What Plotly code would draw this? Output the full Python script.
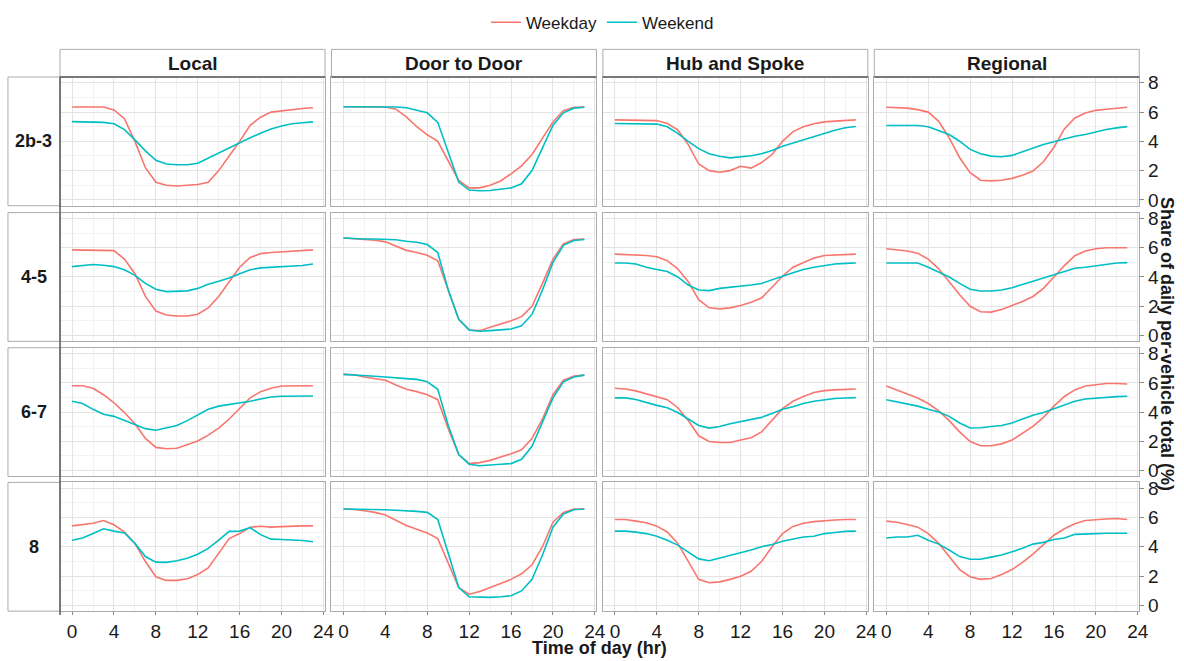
import plotly.graph_objects as go

# ---------------- data ----------------
hours = list(range(24))
columns = ["Local", "Door to Door", "Hub and Spoke", "Regional"]
rows = ["2b-3", "4-5", "6-7", "8"]
x_ticks = [0, 4, 8, 12, 16, 20, 24]
y_ticks = [0, 2, 4, 6, 8]

local_2b3_weekday = [6.35, 6.35, 6.35, 6.35, 6.15, 5.55, 4.0, 2.2, 1.2, 1.0, 0.95, 1.0, 1.05, 1.2, 2.0, 3.0, 4.0, 5.1, 5.65, 6.0, 6.1, 6.2, 6.25, 6.3]
local_2b3_weekend = [5.35, 5.35, 5.35, 5.3, 5.2, 4.8, 4.1, 3.35, 2.7, 2.45, 2.4, 2.4, 2.5, 2.85, 3.2, 3.6, 3.9, 4.25, 4.55, 4.85, 5.05, 5.2, 5.27, 5.33]
d2d_2b3_weekday = [6.37, 6.37, 6.37, 6.37, 6.35, 6.2, 5.67, 5.0, 4.45, 4.0, 2.67, 1.33, 0.82, 0.82, 1.0, 1.29, 1.78, 2.33, 3.1, 4.2, 5.33, 6.1, 6.33, 6.35]
d2d_2b3_weekend = [6.37, 6.37, 6.37, 6.37, 6.37, 6.35, 6.3, 6.15, 5.95, 5.3, 3.33, 1.22, 0.67, 0.62, 0.64, 0.71, 0.82, 1.1, 2.0, 3.55, 5.1, 5.95, 6.27, 6.33]
hub_2b3_weekday = [5.47, 5.47, 5.47, 5.47, 5.42, 5.22, 4.78, 3.78, 2.45, 2.0, 1.89, 2.0, 2.3, 2.17, 2.55, 3.1, 4.0, 4.67, 5.0, 5.2, 5.33, 5.38, 5.45, 5.47]
hub_2b3_weekend = [5.22, 5.22, 5.22, 5.22, 5.18, 5.0, 4.55, 4.0, 3.5, 3.15, 2.98, 2.87, 2.93, 3.02, 3.15, 3.38, 3.67, 3.89, 4.1, 4.33, 4.55, 4.76, 4.93, 5.02]
reg_2b3_weekday = [6.33, 6.3, 6.27, 6.17, 6.0, 5.37, 4.24, 2.88, 1.86, 1.34, 1.3, 1.34, 1.47, 1.68, 1.97, 2.6, 3.6, 4.85, 5.6, 5.94, 6.12, 6.2, 6.27, 6.33]
reg_2b3_weekend = [5.08, 5.08, 5.08, 5.08, 5.0, 4.74, 4.47, 4.01, 3.45, 3.15, 2.99, 2.95, 3.04, 3.29, 3.56, 3.79, 3.97, 4.17, 4.35, 4.47, 4.65, 4.81, 4.92, 5.01]

local_45_weekday = [5.85, 5.85, 5.85, 5.85, 5.8, 5.22, 4.22, 2.67, 1.67, 1.4, 1.33, 1.33, 1.45, 1.89, 2.67, 3.67, 4.67, 5.33, 5.6, 5.67, 5.71, 5.74, 5.78, 5.85]
local_45_weekend = [4.71, 4.78, 4.85, 4.8, 4.71, 4.49, 4.11, 3.56, 3.16, 3.0, 3.0, 3.05, 3.22, 3.51, 3.71, 3.93, 4.22, 4.49, 4.62, 4.67, 4.71, 4.74, 4.78, 4.89]
d2d_45_weekday = [6.67, 6.62, 6.58, 6.51, 6.4, 6.11, 5.82, 5.67, 5.49, 5.11, 3.11, 1.11, 0.38, 0.33, 0.56, 0.78, 1.0, 1.29, 2.0, 3.56, 5.22, 6.27, 6.56, 6.6]
d2d_45_weekend = [6.67, 6.62, 6.6, 6.6, 6.58, 6.55, 6.44, 6.38, 6.22, 5.67, 3.11, 1.11, 0.38, 0.29, 0.33, 0.38, 0.44, 0.67, 1.44, 3.11, 5.0, 6.16, 6.49, 6.56]
hub_45_weekday = [5.56, 5.53, 5.51, 5.47, 5.38, 5.11, 4.56, 3.67, 2.45, 1.89, 1.82, 1.89, 2.05, 2.27, 2.56, 3.33, 4.05, 4.67, 5.0, 5.29, 5.47, 5.51, 5.53, 5.56]
hub_45_weekend = [4.96, 4.96, 4.89, 4.67, 4.51, 4.38, 4.0, 3.45, 3.11, 3.07, 3.22, 3.29, 3.38, 3.45, 3.56, 3.78, 4.05, 4.29, 4.51, 4.67, 4.78, 4.89, 4.93, 4.96]
reg_45_weekday = [5.93, 5.87, 5.78, 5.62, 5.22, 4.56, 3.67, 2.78, 2.0, 1.62, 1.6, 1.78, 2.05, 2.33, 2.67, 3.22, 4.0, 4.78, 5.45, 5.78, 5.93, 6.0, 6.0, 6.0]
reg_45_weekend = [4.96, 4.96, 4.96, 4.96, 4.67, 4.33, 4.0, 3.56, 3.16, 3.04, 3.04, 3.11, 3.27, 3.49, 3.71, 3.89, 4.11, 4.33, 4.6, 4.67, 4.78, 4.89, 4.96, 4.98]

local_67_weekday = [5.8, 5.8, 5.63, 5.19, 4.64, 3.97, 3.2, 2.2, 1.59, 1.5, 1.53, 1.76, 2.03, 2.43, 2.91, 3.53, 4.24, 4.97, 5.4, 5.63, 5.78, 5.8, 5.8, 5.8]
local_67_weekend = [4.74, 4.59, 4.19, 3.86, 3.71, 3.42, 3.15, 2.87, 2.76, 2.91, 3.09, 3.42, 3.79, 4.19, 4.41, 4.52, 4.59, 4.74, 4.9, 5.03, 5.08, 5.1, 5.1, 5.1]
d2d_67_weekday = [6.58, 6.55, 6.4, 6.29, 6.18, 5.85, 5.56, 5.4, 5.19, 4.85, 2.87, 1.1, 0.48, 0.55, 0.7, 0.93, 1.15, 1.43, 2.2, 3.53, 5.19, 6.18, 6.46, 6.53]
d2d_67_weekend = [6.58, 6.55, 6.5, 6.45, 6.4, 6.37, 6.29, 6.24, 6.07, 5.56, 3.09, 1.1, 0.44, 0.33, 0.36, 0.44, 0.48, 0.77, 1.66, 3.31, 4.97, 6.07, 6.4, 6.53]
hub_67_weekday = [5.63, 5.58, 5.45, 5.25, 5.07, 4.85, 4.3, 3.42, 2.38, 1.99, 1.92, 1.92, 2.09, 2.25, 2.65, 3.42, 4.24, 4.74, 5.07, 5.34, 5.47, 5.52, 5.56, 5.58]
hub_67_weekend = [4.97, 4.97, 4.86, 4.64, 4.46, 4.3, 3.97, 3.53, 3.09, 2.91, 3.02, 3.2, 3.35, 3.5, 3.64, 3.9, 4.19, 4.37, 4.59, 4.74, 4.86, 4.93, 4.97, 4.99]
reg_67_weekday = [5.78, 5.52, 5.25, 4.97, 4.59, 4.08, 3.42, 2.65, 1.99, 1.7, 1.7, 1.83, 2.09, 2.54, 3.02, 3.64, 4.41, 5.07, 5.52, 5.78, 5.89, 5.96, 5.96, 5.92]
reg_67_weekend = [4.85, 4.7, 4.57, 4.41, 4.19, 4.01, 3.71, 3.26, 2.91, 2.93, 3.02, 3.09, 3.26, 3.53, 3.79, 3.97, 4.24, 4.52, 4.74, 4.9, 4.97, 5.03, 5.06, 5.08]

local_8_weekday = [5.43, 5.5, 5.61, 5.79, 5.5, 5.0, 4.23, 2.99, 1.95, 1.7, 1.7, 1.81, 2.1, 2.55, 3.56, 4.56, 4.9, 5.34, 5.4, 5.34, 5.38, 5.43, 5.43, 5.43]
local_8_weekend = [4.45, 4.6, 4.9, 5.23, 5.07, 4.94, 4.23, 3.33, 2.95, 2.93, 3.04, 3.22, 3.49, 3.89, 4.45, 5.05, 5.07, 5.3, 4.83, 4.52, 4.5, 4.47, 4.43, 4.34]
d2d_8_weekday = [6.58, 6.55, 6.46, 6.35, 6.17, 5.84, 5.46, 5.19, 4.94, 4.56, 2.89, 1.21, 0.76, 0.94, 1.21, 1.48, 1.77, 2.15, 2.77, 4.0, 5.68, 6.35, 6.58, 6.58]
d2d_8_weekend = [6.58, 6.58, 6.56, 6.55, 6.53, 6.5, 6.47, 6.42, 6.35, 5.86, 3.56, 1.21, 0.58, 0.54, 0.54, 0.58, 0.65, 0.98, 1.77, 3.44, 5.34, 6.24, 6.53, 6.58]
hub_8_weekday = [5.86, 5.86, 5.75, 5.64, 5.41, 5.01, 4.23, 2.99, 1.77, 1.54, 1.6, 1.77, 1.99, 2.32, 2.99, 4.0, 4.9, 5.39, 5.61, 5.72, 5.79, 5.83, 5.86, 5.86]
hub_8_weekend = [5.07, 5.07, 5.0, 4.9, 4.72, 4.45, 4.11, 3.62, 3.17, 3.04, 3.22, 3.4, 3.6, 3.78, 4.0, 4.16, 4.38, 4.52, 4.67, 4.72, 4.9, 4.97, 5.05, 5.07]
reg_8_weekday = [5.75, 5.68, 5.52, 5.34, 4.9, 4.23, 3.33, 2.44, 1.95, 1.77, 1.83, 2.1, 2.44, 2.93, 3.49, 4.16, 4.79, 5.23, 5.57, 5.79, 5.86, 5.9, 5.93, 5.86]
reg_8_weekend = [4.6, 4.67, 4.67, 4.79, 4.45, 4.18, 3.78, 3.33, 3.15, 3.15, 3.29, 3.44, 3.66, 3.89, 4.18, 4.3, 4.5, 4.6, 4.85, 4.85, 4.9, 4.92, 4.94, 4.92]

panel_data = [
    [(local_2b3_weekday, local_2b3_weekend), (d2d_2b3_weekday, d2d_2b3_weekend), (hub_2b3_weekday, hub_2b3_weekend), (reg_2b3_weekday, reg_2b3_weekend)],
    [(local_45_weekday, local_45_weekend), (d2d_45_weekday, d2d_45_weekend), (hub_45_weekday, hub_45_weekend), (reg_45_weekday, reg_45_weekend)],
    [(local_67_weekday, local_67_weekend), (d2d_67_weekday, d2d_67_weekend), (hub_67_weekday, hub_67_weekend), (reg_67_weekday, reg_67_weekend)],
    [(local_8_weekday, local_8_weekend), (d2d_8_weekday, d2d_8_weekend), (hub_8_weekday, hub_8_weekend), (reg_8_weekday, reg_8_weekend)],
]

# ---------------- layout geometry ----------------
W, H = 1184, 661
FONT = "Liberation Sans, Arial, Helvetica, sans-serif"
WEEKDAY_COLOR = "#F8766D"
WEEKEND_COLOR = "#00BFC4"
BORDER = "#ababab"
DARK = "#5a5a5a"
GRID = "#e4e4e4"
GRID_MINOR = "#f2f2f2"

col_left = [60.5, 334.0, 607.5, 881.0]
panel_w = 267.0
row_top = [74.0, 211.5, 348.5, 485.0]
panel_h = 130.5
strip_top = 46.0


def px(x):
    return x / W


def py(y):
    return 1 - y / H


fig = go.Figure()
layout = {}

for r in range(4):
    for c in range(4):
        i = r * 4 + c + 1
        sfx = "" if i == 1 else str(i)
        wd, we = panel_data[r][c]
        fig.add_trace(go.Scatter(
            x=hours, y=wd, mode="lines", name="Weekday", legendgroup="Weekday",
            showlegend=(i == 1), line=dict(color=WEEKDAY_COLOR, width=1.6),
            xaxis="x" + sfx, yaxis="y" + sfx, hoverinfo="skip"))
        fig.add_trace(go.Scatter(
            x=hours, y=we, mode="lines", name="Weekend", legendgroup="Weekend",
            showlegend=(i == 1), line=dict(color=WEEKEND_COLOR, width=1.6),
            xaxis="x" + sfx, yaxis="y" + sfx, hoverinfo="skip"))

        l = col_left[c]
        t = row_top[r]
        bottom_row = (r == 3)
        right_col = (c == 3)
        layout["xaxis" + sfx] = dict(
            domain=[px(l), px(l + panel_w)], anchor="y" + sfx,
            range=[-1.15, 24.15], tickvals=x_ticks, ticktext=[str(v) for v in x_ticks],
            showticklabels=bottom_row, ticks="outside" if bottom_row else "",
            ticklen=3, tickcolor="#8a8a8a", tickwidth=1,
            tickfont=dict(size=19, color="#1a1a1a", family=FONT),
            showgrid=True, gridcolor=GRID, gridwidth=1,
            minor=dict(tickvals=[2, 6, 10, 14, 18, 22], showgrid=True, gridcolor=GRID_MINOR, gridwidth=1),
            showline=True, mirror=True, linecolor=BORDER, linewidth=1,
            zeroline=False, fixedrange=True)
        layout["yaxis" + sfx] = dict(
            domain=[py(t + panel_h), py(t)], anchor="x" + sfx,
            range=[-0.4, 8.4], tickvals=y_ticks, ticktext=[str(v) for v in y_ticks],
            side="right", showticklabels=right_col, ticks="outside" if right_col else "",
            ticklen=4, tickcolor="#8a8a8a", tickwidth=1,
            tickfont=dict(size=19, color="#1a1a1a", family=FONT),
            showgrid=True, gridcolor=GRID, gridwidth=1,
            minor=dict(tickvals=[1, 3, 5, 7], showgrid=True, gridcolor=GRID_MINOR, gridwidth=1),
            showline=True, mirror=True, linecolor=BORDER, linewidth=1,
            zeroline=False, fixedrange=True)

shapes = []
annotations = []

# column strips
for c, name in enumerate(columns):
    l = col_left[c]
    shapes.append(dict(type="rect", xref="paper", yref="paper",
                       x0=px(l), x1=px(l + panel_w), y0=py(row_top[0]), y1=py(strip_top),
                       fillcolor="white", line=dict(color=BORDER, width=1)))
    shapes.append(dict(type="line", xref="paper", yref="paper",
                       x0=px(l), x1=px(l + panel_w), y0=py(row_top[0]), y1=py(row_top[0]),
                       line=dict(color=DARK, width=1.5)))
    annotations.append(dict(text="<b>" + name + "</b>", xref="paper", yref="paper",
                            x=px(l + panel_w / 2), y=py((strip_top + row_top[0]) / 2),
                            xanchor="center", yanchor="middle", showarrow=False,
                            font=dict(size=19, color="#1a1a1a", family=FONT)))

# row strips
for r, name in enumerate(rows):
    t = row_top[r]
    shapes.append(dict(type="rect", xref="paper", yref="paper",
                       x0=px(8), x1=px(col_left[0]), y0=py(t + panel_h), y1=py(t),
                       fillcolor="white", line=dict(color=BORDER, width=1)))
    annotations.append(dict(text="<b>" + name + "</b>", xref="paper", yref="paper",
                            x=px(34), y=py(t + panel_h / 2),
                            xanchor="center", yanchor="middle", showarrow=False,
                            font=dict(size=18, color="#1a1a1a", family=FONT)))

# dark left edge of first column
shapes.append(dict(type="line", xref="paper", yref="paper",
                   x0=px(col_left[0]), x1=px(col_left[0]),
                   y0=py(row_top[3] + panel_h + 4), y1=py(row_top[0]),
                   line=dict(color=DARK, width=1.5)))

# axis titles
annotations.append(dict(text="<b>Time of day (hr)</b>", xref="paper", yref="paper",
                        x=px((col_left[0] + col_left[3] + panel_w) / 2), y=py(653),
                        xanchor="center", yanchor="middle", showarrow=False,
                        font=dict(size=18, color="#1a1a1a", family=FONT)))
annotations.append(dict(text="<b>Share of daily per-vehicle total (%)</b>", xref="paper", yref="paper",
                        x=px(1176), y=py((row_top[0] + row_top[3] + panel_h) / 2),
                        xanchor="center", yanchor="middle", showarrow=False, textangle=90,
                        font=dict(size=18, color="#1a1a1a", family=FONT)))

layout.update(dict(
    width=W, height=H,
    margin=dict(l=0, r=0, t=0, b=0),
    paper_bgcolor="white", plot_bgcolor="white",
    font=dict(family=FONT, color="#1a1a1a"),
    showlegend=True,
    legend=dict(orientation="h", x=px(607), xanchor="center", y=py(19), yanchor="middle",
                font=dict(size=17, color="#1a1a1a", family=FONT), itemwidth=30,
                bgcolor="rgba(0,0,0,0)"),
    shapes=shapes, annotations=annotations,
))
fig.update_layout(**layout)

fig.write_html("out.html")
